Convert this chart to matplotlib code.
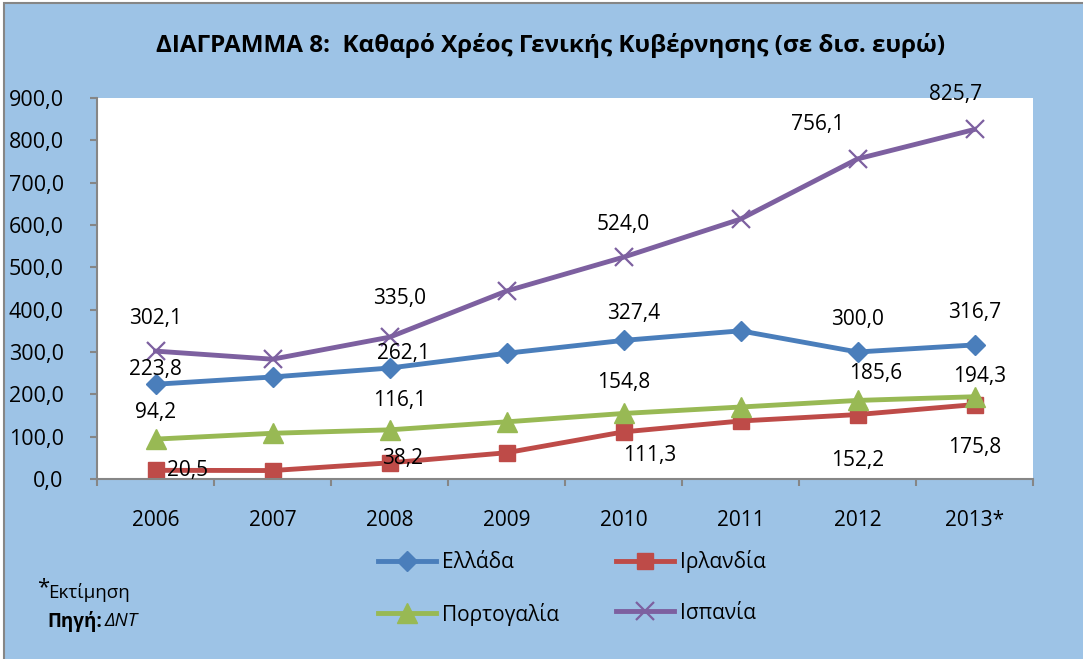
import matplotlib
matplotlib.use("Agg")
import matplotlib.pyplot as plt
from matplotlib.patches import Rectangle

plt.rcParams['font.family'] = ['Open Sans', 'DejaVu Sans']

years = ["2006", "2007", "2008", "2009", "2010", "2011", "2012", "2013*"]
greece = [223.8, 241, 262.1, 297, 327.4, 350, 300.0, 316.7]
ireland = [20.5, 20, 38.2, 62, 111.3, 137, 152.2, 175.8]
portugal = [94.2, 108, 116.1, 135, 154.8, 170, 185.6, 194.3]
spain = [302.1, 283, 335.0, 444, 524.0, 614, 756.1, 825.7]
labelled = [0, 2, 4, 6, 7]  # years whose value is written on the chart

yticks = [0, 100, 200, 300, 400, 500, 600, 700, 800, 900]

series = [
    ("Ελλάδα", greece, "#4a7ebb", "D", 10, [(0, 15), (14, 15), (10, 27), (0, 33), (0, 32)]),
    ("Ιρλανδία", ireland, "#be4b48", "s", 12, [(32, 0), (13, 4), (26, -24), (0, -46), (0, -43)]),
    ("Πορτογαλία", portugal, "#98b954", "^", 14, [(0, 27), (10, 29), (0, 31), (18, 27), (5, 20)]),
    ("Ισπανία", spain, "#7d60a0", "x", 13, [(0, 33), (10, 39), (0, 33), (-40, 34), (-19, 35)]),
]

fig = plt.figure(figsize=(10.83, 6.59), dpi=100, facecolor="white")
bg = "#9dc3e6"
fig.patches.append(Rectangle((4 / 1083, -0.01), 1.02, 1 - 3 / 659 + 0.01,
                             transform=fig.transFigure, facecolor=bg,
                             edgecolor="#868686", linewidth=1.5, zorder=-10))

ax = fig.add_axes([97 / 1083, 1 - 479 / 659, (1033 - 97) / 1083, (479 - 98) / 659])
ax.set_facecolor("white")

x = list(range(len(years)))
lines = {}
for name, vals, color, marker, ms, offs in series:
    if marker == "x":
        ln, = ax.plot(x, vals, color=color, lw=3.5, marker=marker, ms=ms, mew=1.6,
                      label=name, solid_joinstyle="round")
    else:
        ln, = ax.plot(x, vals, color=color, lw=3.5, marker=marker, ms=ms, mec=color,
                      label=name, solid_joinstyle="round")
    lines[name] = ln
    for i, (dx, dy) in zip(labelled, offs):
        ax.annotate(f"{vals[i]:.1f}".replace(".", ","), (x[i], vals[i]),
                    xytext=(dx, dy), textcoords="offset pixels",
                    ha="center", va="center", fontsize=15, zorder=5)

ax.set_xlim(-0.5, len(years) - 0.5)
ax.set_ylim(0, 900)
ax.set_yticks(yticks)
ax.set_yticklabels([f"{v:.1f}".replace(".", ",") for v in yticks])
ax.set_xticks(x)
ax.set_xticklabels(years)
ax.set_xticks([i - 0.5 for i in range(len(years) + 1)], minor=True)

for s in ["top", "right"]:
    ax.spines[s].set_visible(False)
for s in ["left", "bottom"]:
    ax.spines[s].set_color("#868686")
    ax.spines[s].set_linewidth(1.5)

ax.tick_params(axis="y", length=5, width=1.5, color="#868686", pad=19, labelsize=15.5)
ax.tick_params(axis="x", which="major", length=0, pad=22, labelsize=15)
ax.tick_params(axis="x", which="minor", length=5, width=1.5, color="#868686")

fig.text(0.508, 1 - 45 / 659, "ΔΙΑΓΡΑΜΜΑ 8:  Καθαρό Χρέος Γενικής Κυβέρνησης (σε δισ. ευρώ)",
         ha="center", va="center", fontsize=17.5, fontweight="bold")

# legend filled row by row: Ελλάδα, Ιρλανδία / Πορτογαλία, Ισπανία
order = ["Ελλάδα", "Πορτογαλία", "Ιρλανδία", "Ισπανία"]
fig.legend([lines[n] for n in order], order, loc="center",
           bbox_to_anchor=(572 / 1083, 1 - 588 / 659), ncol=2, frameon=False,
           fontsize=15, handlelength=2.8, columnspacing=2.7, labelspacing=1.4,
           handletextpad=0.3)

fig.text(37 / 1083, 1 - 588 / 659, "*", fontsize=16, ha="left", va="center")
fig.text(48 / 1083, 1 - 592 / 659, "Εκτίμηση", fontsize=13.5, ha="left", va="center")
fig.text(47 / 1083, 1 - 621 / 659, "Πηγή:", fontsize=13.5, fontweight="bold", ha="left", va="center")
fig.text(105 / 1083, 1 - 621 / 659, "ΔΝΤ", fontsize=13.5, style="italic", ha="left", va="center")

fig.savefig("out.png", dpi=100, facecolor=fig.get_facecolor())
